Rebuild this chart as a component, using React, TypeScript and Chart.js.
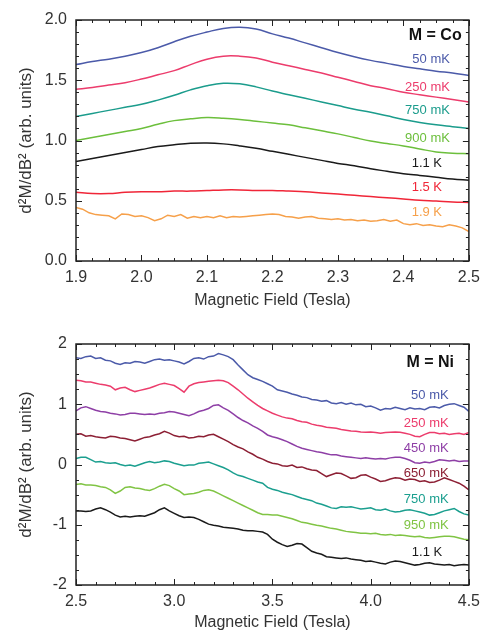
import React, { useEffect, useRef } from "react";
import { Chart, registerables } from "chart.js";
Chart.register(...registerables);

// ---------------- Top panel (M = Co) data ----------------
const coFieldStart = 1.9;
const coFieldStep = 0.025;
const coOrangeStep = 0.01;
const coTag = "M = Co";
const coLabels = ["50 mK", "250 mK", "750 mK", "900 mK", "1.1 K", "1.5 K", "1.9 K"];
const co50mK = [1.63, 1.655, 1.675, 1.7, 1.73, 1.77, 1.82, 1.865, 1.9, 1.93, 1.94, 1.925, 1.885, 1.85, 1.81, 1.77, 1.73, 1.695, 1.665, 1.64, 1.615, 1.595, 1.575, 1.56, 1.54];
const co250mK = [1.425, 1.44, 1.46, 1.48, 1.51, 1.545, 1.58, 1.63, 1.675, 1.7, 1.7, 1.685, 1.65, 1.62, 1.59, 1.56, 1.525, 1.49, 1.455, 1.43, 1.4, 1.38, 1.36, 1.34, 1.32];
const co750mK = [1.2, 1.225, 1.25, 1.275, 1.3, 1.335, 1.375, 1.42, 1.455, 1.475, 1.47, 1.445, 1.41, 1.38, 1.35, 1.32, 1.29, 1.26, 1.235, 1.205, 1.175, 1.15, 1.13, 1.115, 1.1];
const co900mK = [1.0, 1.025, 1.05, 1.075, 1.1, 1.135, 1.165, 1.18, 1.19, 1.185, 1.175, 1.16, 1.145, 1.13, 1.105, 1.08, 1.055, 1.025, 0.995, 0.975, 0.955, 0.93, 0.905, 0.895, 0.89];
const co1p1K = [0.825, 0.85, 0.875, 0.9, 0.925, 0.95, 0.965, 0.977, 0.98, 0.972, 0.955, 0.935, 0.91, 0.885, 0.86, 0.835, 0.81, 0.79, 0.765, 0.745, 0.725, 0.71, 0.695, 0.68, 0.67];
const co1p5K = [0.57, 0.56, 0.56, 0.57, 0.575, 0.575, 0.58, 0.58, 0.585, 0.59, 0.59, 0.585, 0.585, 0.58, 0.575, 0.565, 0.555, 0.545, 0.535, 0.525, 0.515, 0.505, 0.498, 0.49, 0.485];
const co1p9K = [
  0.445, 0.43, 0.4, 0.385, 0.38, 0.375, 0.35, 0.39, 0.385, 0.37,
  0.375, 0.36, 0.335, 0.35, 0.38, 0.37, 0.385, 0.355, 0.37, 0.36,
  0.37, 0.36, 0.375, 0.36, 0.37, 0.365, 0.37, 0.375, 0.38, 0.385,
  0.39, 0.385, 0.37, 0.365, 0.355, 0.365, 0.37, 0.355, 0.35, 0.345,
  0.35, 0.34, 0.345, 0.335, 0.34, 0.33, 0.335, 0.345, 0.33, 0.34,
  0.31, 0.3, 0.31, 0.295, 0.3, 0.29, 0.285, 0.3, 0.29, 0.275,
  0.245,
];
const coXTicks = { min: 1.9, max: 2.5, step: 0.1 };
const coYTicks = { min: 0, max: 2, step: 0.5 };

// ---------------- Bottom panel (M = Ni) data ----------------
const niFieldStart = 2.5;
const niFieldStep = 0.025;
const niTag = "M = Ni";
const niLabels = ["50 mK", "250 mK", "450 mK", "650 mK", "750 mK", "950 mK", "1.1 K"];
const ni50mK = [
  1.77, 1.76, 1.79, 1.8, 1.76, 1.77, 1.73, 1.72, 1.68, 1.66,
  1.69, 1.68, 1.71, 1.7, 1.68, 1.71, 1.74, 1.75, 1.73, 1.74,
  1.72, 1.7, 1.67, 1.71, 1.76, 1.77, 1.75, 1.79, 1.8, 1.84,
  1.82, 1.79, 1.74, 1.65, 1.57, 1.49, 1.44, 1.41, 1.38, 1.34,
  1.3, 1.24, 1.22, 1.2, 1.17, 1.15, 1.12, 1.11, 1.08, 1.07,
  1.05, 1.06, 1.02, 1.01, 1.03, 1.0, 1.02, 0.99, 1.0, 0.96,
  0.97, 0.94, 0.9, 0.93, 0.92, 0.95, 0.93, 0.91, 0.94, 0.92,
  0.93, 0.91, 0.95, 0.96, 0.94, 0.98, 1.0, 1.01, 0.98, 0.95,
  0.88,
];
const ni250mK = [
  1.4, 1.39, 1.37, 1.37, 1.35, 1.33, 1.32, 1.3, 1.24, 1.27,
  1.28, 1.24, 1.21, 1.23, 1.25, 1.27, 1.3, 1.33, 1.35, 1.33,
  1.31, 1.26, 1.2, 1.3, 1.34, 1.36, 1.37, 1.38, 1.39, 1.4,
  1.39, 1.36, 1.3, 1.24, 1.17, 1.1, 1.04, 0.98, 0.93, 0.89,
  0.85, 0.82, 0.79, 0.77, 0.76, 0.73, 0.71, 0.7, 0.67, 0.65,
  0.64, 0.62, 0.61, 0.6, 0.58, 0.57, 0.555, 0.55, 0.54, 0.535,
  0.54, 0.53, 0.52, 0.53, 0.535, 0.54, 0.535, 0.52, 0.5, 0.47,
  0.46, 0.5, 0.53, 0.53, 0.51, 0.52, 0.5, 0.51, 0.52, 0.5,
  0.53,
];
const ni450mK = [
  0.89, 0.94, 0.96, 0.93, 0.9, 0.88, 0.87, 0.85, 0.84, 0.82,
  0.83, 0.85, 0.85, 0.84, 0.83, 0.84, 0.83, 0.85, 0.86, 0.88,
  0.87, 0.85, 0.83, 0.81, 0.84, 0.88, 0.9, 0.93, 0.98, 0.99,
  0.94, 0.9, 0.84, 0.78, 0.73, 0.69, 0.64, 0.6, 0.55, 0.49,
  0.46, 0.44, 0.41, 0.38, 0.34, 0.3, 0.27, 0.25, 0.23, 0.21,
  0.2, 0.18, 0.16, 0.16, 0.14, 0.13, 0.12, 0.11, 0.1, 0.11,
  0.1, 0.09, 0.1, 0.09, 0.11, 0.12, 0.12, 0.1, 0.07, 0.03,
  0.02, 0.04, 0.03, 0.05, 0.08, 0.07, 0.06, 0.07, 0.05, 0.06,
  0.06,
];
const ni650mK = [
  0.5, 0.51, 0.47, 0.48, 0.46, 0.45, 0.44, 0.47, 0.46, 0.44,
  0.43, 0.41, 0.39, 0.42, 0.45, 0.46, 0.49, 0.51, 0.55, 0.52,
  0.48, 0.46, 0.47, 0.44, 0.45, 0.47, 0.46, 0.49, 0.5, 0.46,
  0.42, 0.38, 0.33, 0.29, 0.26, 0.21, 0.17, 0.12, 0.09, 0.05,
  0.02, 0.01, -0.02, -0.03, -0.01, -0.05, -0.04, -0.07, -0.09, -0.1,
  -0.15, -0.2, -0.17, -0.14, -0.15, -0.19, -0.23, -0.22, -0.18, -0.17,
  -0.21, -0.24, -0.28, -0.27, -0.24, -0.22, -0.23, -0.26, -0.24, -0.25,
  -0.28, -0.27, -0.3, -0.29, -0.26, -0.22, -0.25, -0.28, -0.31, -0.36,
  -0.42,
];
const ni750mK = [
  0.1, 0.12, 0.12, 0.08, 0.04, 0.05, 0.03, 0.02, 0.03, 0.0,
  -0.02, -0.01, -0.03, 0.0, 0.03, 0.05, 0.03, 0.04, 0.06, 0.05,
  0.02, 0.0, -0.02, -0.01, -0.01, 0.02, 0.03, 0.04, 0.01, -0.02,
  -0.05, -0.09, -0.14, -0.18, -0.2, -0.23, -0.26, -0.29, -0.31, -0.38,
  -0.41, -0.43, -0.46, -0.48, -0.5, -0.53, -0.56, -0.58, -0.6, -0.64,
  -0.66, -0.69, -0.72, -0.73, -0.7, -0.71, -0.7, -0.72, -0.74, -0.73,
  -0.72, -0.75, -0.76, -0.74, -0.77, -0.79, -0.78, -0.76, -0.75, -0.77,
  -0.79, -0.81, -0.84, -0.83, -0.8, -0.77, -0.75, -0.73, -0.78, -0.82,
  -0.84,
];
const ni950mK = [
  -0.33, -0.32, -0.34, -0.34, -0.35, -0.37, -0.38, -0.42, -0.48, -0.44,
  -0.38, -0.37, -0.39, -0.4, -0.42, -0.43, -0.4, -0.36, -0.33, -0.35,
  -0.4, -0.44, -0.5, -0.49, -0.48, -0.46, -0.43, -0.42, -0.44, -0.48,
  -0.52, -0.56, -0.6, -0.64, -0.68, -0.72, -0.76, -0.8, -0.83, -0.83,
  -0.84, -0.84, -0.86, -0.88, -0.9, -0.93, -0.96, -0.97, -0.99, -1.01,
  -1.02, -1.04, -1.06, -1.07, -1.09, -1.11, -1.12, -1.13, -1.14, -1.14,
  -1.15, -1.14, -1.16, -1.17, -1.16, -1.18, -1.17, -1.18, -1.19, -1.2,
  -1.19, -1.21, -1.22, -1.21, -1.2, -1.19, -1.19, -1.2, -1.22, -1.24,
  -1.25,
];
const ni1p1K = [
  -0.77, -0.77, -0.78, -0.77, -0.74, -0.72, -0.75, -0.79, -0.84, -0.87,
  -0.86, -0.87, -0.86, -0.85, -0.86, -0.83, -0.8, -0.75, -0.72, -0.77,
  -0.81, -0.85, -0.88, -0.87, -0.88, -0.91, -0.95, -0.99, -1.01, -1.02,
  -1.04, -1.05, -1.06, -1.07, -1.09, -1.1, -1.1, -1.11, -1.12, -1.16,
  -1.24, -1.29, -1.33, -1.36, -1.34, -1.31, -1.32, -1.38, -1.44, -1.47,
  -1.49, -1.53, -1.54, -1.55, -1.56, -1.55, -1.57, -1.58, -1.59, -1.61,
  -1.6, -1.62, -1.64, -1.65, -1.62, -1.6, -1.61, -1.63, -1.65, -1.67,
  -1.66, -1.64, -1.63, -1.65, -1.66, -1.67, -1.66, -1.68, -1.67, -1.66,
  -1.67,
];
const niXTicks = { min: 2.5, max: 4.5, step: 0.5 };
const niYTicks = { min: -2, max: 2, step: 1 };

// ---------------- Styles & label placement (kept apart from data) ----------------
const FONT = "'Liberation Sans', Arial, Helvetica, sans-serif";
const TEXT = "#333";
const AXIS = "#222";
const coColors = ["#4b5aa9", "#ec3c6c", "#1b9c8c", "#6cbf3c", "#1a1a1a", "#f02638", "#f6a04a"];
const niColors = ["#4b5aa9", "#ec3c6c", "#8e3fa6", "#8c1f34", "#1b9f8f", "#80c444", "#1a1a1a"];
const coLabelPos = { tagX: 2.489, tagY: 1.867, xs: [2.471, 2.471, 2.471, 2.471, 2.459, 2.459, 2.459], ys: [1.676, 1.444, 1.253, 1.021, 0.813, 0.614, 0.407] };
const niLabelPos = { tagX: 4.424, tagY: 1.685, xs: [4.397, 4.397, 4.397, 4.397, 4.397, 4.397, 4.364], ys: [1.153, 0.689, 0.274, -0.141, -0.573, -1.004, -1.452] };

const grid = (start: number, step: number, values: number[]) =>
  values.map((y, i) => ({ x: start + i * step, y }));

type PanelSpec = {
  height: number;
  padTop: number;
  xAxisH: number;
  xTitlePad: number;
  x: { min: number; max: number; step: number };
  y: { min: number; max: number; step: number };
  xMinor: number;
  yMinor: number;
  yDecimals: number;
  series: { points: { x: number; y: number }[]; color: string; tension: number }[];
  tag: string;
  labels: string[];
  colors: string[];
  pos: { tagX: number; tagY: number; xs: number[]; ys: number[] };
};

function makeFrame(spec: PanelSpec) {
  return {
    id: "frame",
    afterDraw(chart: any) {
      const { ctx, chartArea: a, scales } = chart;
      const xs = scales.x;
      const ys = scales.y;
      ctx.save();
      ctx.strokeStyle = AXIS;
      ctx.lineWidth = 1;
      const drawTicks = (scale: any, minor: number, major: number, horizontal: boolean) => {
        const n = Math.round((scale.max - scale.min) / minor);
        for (let i = 0; i <= n; i++) {
          const v = scale.min + i * minor;
          const r = v / major;
          const isMaj = Math.abs(r - Math.round(r)) < 1e-6;
          const len = isMaj ? 6 : 3;
          const p = Math.round(scale.getPixelForValue(v)) + 0.5;
          ctx.beginPath();
          if (horizontal) {
            ctx.moveTo(p, a.bottom);
            ctx.lineTo(p, a.bottom - len);
            ctx.moveTo(p, a.top);
            ctx.lineTo(p, a.top + len);
          } else {
            ctx.moveTo(a.left, p);
            ctx.lineTo(a.left + len, p);
            ctx.moveTo(a.right, p);
            ctx.lineTo(a.right - len, p);
          }
          ctx.stroke();
        }
      };
      drawTicks(xs, spec.xMinor, spec.x.step, true);
      drawTicks(ys, spec.yMinor, spec.y.step, false);
      ctx.lineWidth = 1.5;
      ctx.strokeRect(a.left, a.top, a.right - a.left, a.bottom - a.top);

      ctx.textAlign = "right";
      ctx.textBaseline = "middle";
      ctx.fillStyle = "#111";
      ctx.font = `bold 16px ${FONT}`;
      ctx.fillText(spec.tag, xs.getPixelForValue(spec.pos.tagX), ys.getPixelForValue(spec.pos.tagY));
      ctx.font = `13px ${FONT}`;
      spec.labels.forEach((t, i) => {
        ctx.fillStyle = spec.colors[i];
        ctx.fillText(t, xs.getPixelForValue(spec.pos.xs[i]), ys.getPixelForValue(spec.pos.ys[i]));
      });
      ctx.restore();
    },
  };
}

function buildChart(canvas: HTMLCanvasElement, spec: PanelSpec) {
  return new Chart(canvas, {
    type: "line",
    data: {
      datasets: spec.series.map((s) => ({
        data: s.points,
        borderColor: s.color,
        borderWidth: 1.5,
        pointRadius: 0,
        tension: s.tension,
        fill: false,
      })),
    },
    options: {
      animation: false,
      responsive: false,
      events: [],
      layout: { padding: { top: spec.padTop, right: 15, left: 0, bottom: 0 } },
      plugins: { legend: { display: false }, tooltip: { enabled: false } },
      scales: {
        x: {
          type: "linear",
          min: spec.x.min,
          max: spec.x.max,
          afterFit: (s: any) => {
            s.height = spec.xAxisH;
          },
          grid: { display: false, drawTicks: false },
          border: { display: false },
          ticks: {
            stepSize: spec.x.step,
            padding: 7,
            color: TEXT,
            font: { family: FONT, size: 16 },
            maxRotation: 0,
            autoSkip: false,
            callback: (v: any) => Number(v).toFixed(1),
          },
          title: {
            display: true,
            text: "Magnetic Field (Tesla)",
            color: TEXT,
            font: { family: FONT, size: 16 },
            padding: { top: 0, bottom: spec.xTitlePad },
          },
        },
        y: {
          type: "linear",
          min: spec.y.min,
          max: spec.y.max,
          afterFit: (s: any) => {
            s.width = 76;
          },
          grid: { display: false, drawTicks: false },
          border: { display: false },
          ticks: {
            stepSize: spec.y.step,
            padding: 9,
            color: TEXT,
            font: { family: FONT, size: 16 },
            callback: (v: any) => Number(v).toFixed(spec.yDecimals),
          },
          title: {
            display: true,
            text: "d²M/dB² (arb. units)",
            color: TEXT,
            font: { family: FONT, size: 17 },
            padding: { top: 16, bottom: 0 },
          },
        },
      },
    } as any,
    plugins: [makeFrame(spec)],
  });
}

const coSeriesValues = [co50mK, co250mK, co750mK, co900mK, co1p1K, co1p5K];
const niSeriesValues = [ni50mK, ni250mK, ni450mK, ni650mK, ni750mK, ni950mK, ni1p1K];

const coSpec: PanelSpec = {
  height: 316,
  padTop: 20,
  xAxisH: 55,
  xTitlePad: 5.5,
  x: coXTicks,
  y: coYTicks,
  xMinor: 0.025,
  yMinor: 0.1,
  yDecimals: 1,
  series: [
    ...coSeriesValues.map((v, i) => ({ points: grid(coFieldStart, coFieldStep, v), color: coColors[i], tension: 0.4 })),
    { points: grid(coFieldStart, coOrangeStep, co1p9K), color: coColors[6], tension: 0 },
  ],
  tag: coTag,
  labels: coLabels,
  colors: coColors,
  pos: coLabelPos,
};

const niSpec: PanelSpec = {
  height: 317,
  padTop: 28,
  xAxisH: 48,
  xTitlePad: 0.5,
  x: niXTicks,
  y: niYTicks,
  xMinor: 0.1,
  yMinor: 0.25,
  yDecimals: 0,
  series: niSeriesValues.map((v, i) => ({ points: grid(niFieldStart, niFieldStep, v), color: niColors[i], tension: 0 })),
  tag: niTag,
  labels: niLabels,
  colors: niColors,
  pos: niLabelPos,
};

export default function App() {
  const topRef = useRef<HTMLCanvasElement | null>(null);
  const botRef = useRef<HTMLCanvasElement | null>(null);
  useEffect(() => {
    const c1 = buildChart(topRef.current!, coSpec);
    const c2 = buildChart(botRef.current!, niSpec);
    return () => {
      c1.destroy();
      c2.destroy();
    };
  }, []);
  return (
    <div style={{ position: "absolute", left: 0, top: 0, width: 487, height: 633, background: "#fff" }}>
      <canvas ref={topRef} width={487} height={coSpec.height} style={{ position: "absolute", left: 0, top: 0, width: 487, height: coSpec.height }} />
      <canvas ref={botRef} width={487} height={niSpec.height} style={{ position: "absolute", left: 0, top: coSpec.height, width: 487, height: niSpec.height }} />
    </div>
  );
}
